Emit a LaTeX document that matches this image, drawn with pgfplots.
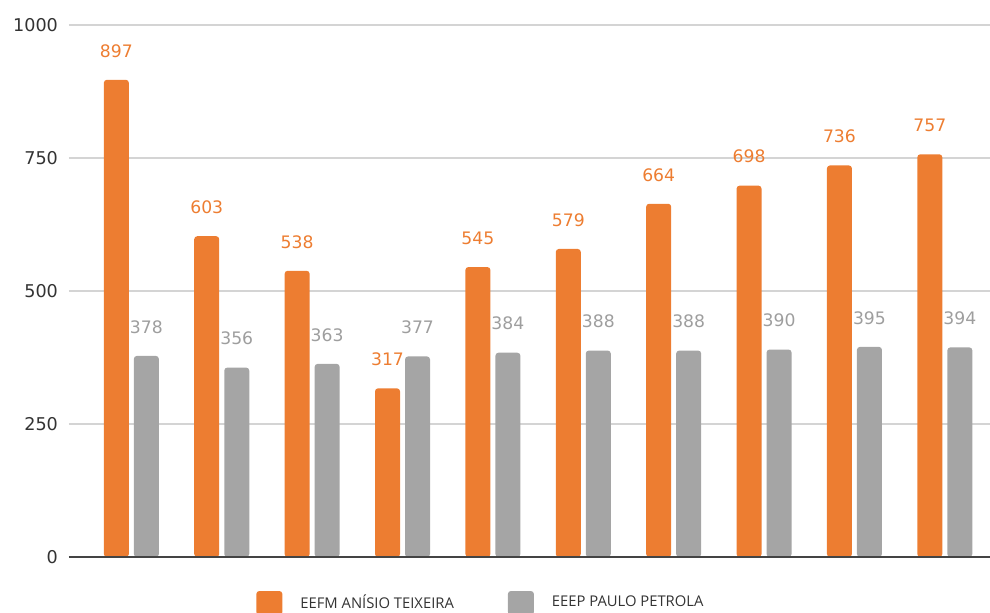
\documentclass[border=0pt]{standalone}
\usepackage{pgfplots}
\pgfplotsset{compat=1.18}
\usepackage{fontspec}
\setmainfont{DejaVu Sans}
\newfontfamily\legendfont{Open Sans}
\definecolor{orangeS}{HTML}{ED7D31}
\definecolor{grayS}{HTML}{A5A5A5}
\definecolor{grayL}{HTML}{9E9E9E}
\definecolor{gridc}{HTML}{D4D4D4}
\definecolor{tickc}{HTML}{333333}
\definecolor{basec}{HTML}{444444}
\pgfplotstableread{
x a b
0 897 378
1 603 356
2 538 363
3 317 377
4 545 384
5 579 388
6 664 388
7 698 390
8 736 395
9 757 394
}\datatable
\begin{document}
\begin{tikzpicture}
\useasboundingbox (-34.5pt,-27.5pt) rectangle (460.5pt,278.5pt);
\begin{axis}[
  scale only axis,
  width=460.5pt, height=266pt,
  xmin=-0.69, xmax=9.5,
  ymin=0, ymax=1000,
  ytick={0,250,500,750,1000},
  xtick=\empty,
  ymajorgrids,
  grid style={color=gridc, line width=0.9pt},
  axis line style={draw=none},
  ytick style={draw=none},
  /pgf/number format/assume math mode=true,
  /pgf/number format/1000 sep={},
  yticklabel style={font=\fontsize{8.8}{10}\selectfont, text=tickc, xshift=-2pt},
  ybar, bar width=0.2766,
  nodes near coords,
  every node near coord/.append style={font=\fontsize{8.6}{10}\selectfont, anchor=center, yshift=14.5pt},
  legend columns=2,
  legend style={draw=none, fill=none, inner sep=0pt, at={(0.203,0)}, anchor=west, yshift=-23pt,
    font=\legendfont\fontsize{7.4}{9}\selectfont, text=tickc,
    /tikz/every even column/.append style={column sep=25pt}},
  legend image code/.code={\fill[#1] (0pt,-6pt) rectangle (13pt,6pt);},
]
\addplot[fill=orangeS, draw=none, bar shift=-0.166, rounded corners=1.5pt,
  every node near coord/.append style={text=orangeS}] table[x=x, y=a] {\datatable};
\addplot[fill=grayS, draw=none, bar shift=0.166, rounded corners=1.5pt,
  every node near coord/.append style={text=grayL}] table[x=x, y=b] {\datatable};
\legend{\hspace*{7pt}EEFM ANÍSIO TEIXEIRA, \hspace*{7pt}EEEP PAULO PETROLA}
\draw[basec, line width=1.2pt] (rel axis cs:0,0) -- (rel axis cs:1,0);
\end{axis}
\end{tikzpicture}
\end{document}
